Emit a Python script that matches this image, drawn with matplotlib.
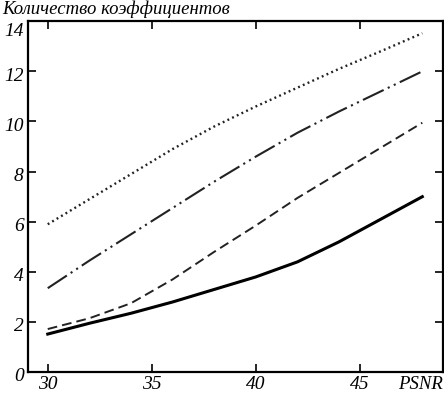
import numpy as np
import matplotlib
matplotlib.use('Agg')
import matplotlib.pyplot as plt
import matplotlib.transforms as mtransforms

# PSNR values and number of coefficients for each curve
psnr = [30, 32, 34, 36, 38, 40, 42, 44, 46, 48]
dotted_vals = [5.9, 6.9, 7.9, 8.9, 9.8, 10.6, 11.35, 12.1, 12.8, 13.52]
dashdot_vals = [3.35, 4.45, 5.5, 6.55, 7.6, 8.6, 9.55, 10.4, 11.2, 12.0]
dashed_vals = [1.72, 2.15, 2.75, 3.7, 4.8, 5.85, 6.95, 7.95, 8.95, 9.95]
solid_vals = [1.52, 1.95, 2.35, 2.8, 3.3, 3.8, 4.4, 5.2, 6.1, 7.0]

xticks = [30, 35, 40, 45]
yticks = [0, 2, 4, 6, 8, 10, 12, 14]

plt.rcParams['font.family'] = ['Liberation Serif', 'DejaVu Serif']
plt.rcParams['font.style'] = 'italic'

fig = plt.figure(figsize=(4.44, 3.93), dpi=100)
ax = fig.add_axes([0.063, 0.053, 0.935, 0.893])

ax.plot(psnr, dotted_vals, color='#222222', lw=1.7, linestyle=(0, (0.8, 1.4)))
ax.plot(psnr, dashdot_vals, color='#222222', lw=1.5, linestyle=(0, (11, 2.2, 1, 2.2, 1, 2.2)))
ax.plot(psnr, dashed_vals, color='#222222', lw=1.4, linestyle=(0, (5, 2.6)))
ax.plot(psnr, solid_vals, color='black', lw=2.2)

ax.set_xlim(29.05, 49.0)
ax.set_ylim(0, 14)
ax.set_xticks(xticks)
ax.set_yticks(yticks)
ax.tick_params(direction='in', length=6, width=1.2, top=True, right=True,
               labelsize=14, pad=3)
for s in ax.spines.values():
    s.set_linewidth(1.6)

# y labels sit a little below their ticks, the top one is pushed inside
for lbl, v in zip(ax.get_yticklabels(), yticks):
    dy = -6 if v == 14 else -2
    lbl.set_transform(lbl.get_transform() +
                      mtransforms.ScaledTranslation(0, dy / 72, fig.dpi_scale_trans))

fig.text(0.005, 1.0, 'Количество коэффициентов', fontsize=13.5, style='italic',
         ha='left', va='top')
fig.text(0.998, 0.0, 'PSNR', fontsize=13.5, style='italic', ha='right', va='bottom')

fig.savefig('out.png', dpi=100)
